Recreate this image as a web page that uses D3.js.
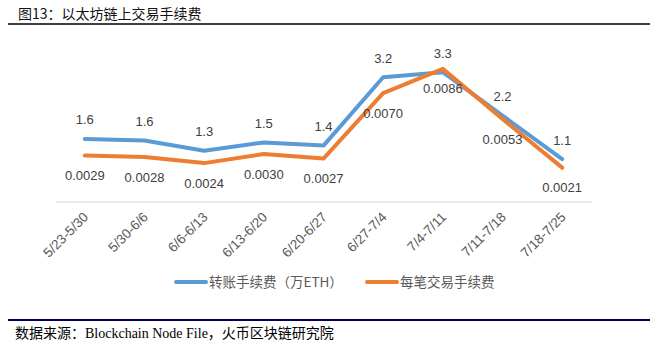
<!DOCTYPE html>
<html>
<head>
<meta charset="utf-8">
<script src="https://cdn.jsdelivr.net/npm/d3@7"></script>
<style>
  body { margin: 0; background: #fff; }
  svg { display: block; }
</style>
</head>
<body>
<div class="chartWrapper"></div>
<script>
// week ranges on the x axis
var weeks = ["5/23-5/30", "5/30-6/6", "6/6-6/13", "6/13-6/20", "6/20-6/27", "6/27-7/4", "7/4-7/11", "7/11-7/18", "7/18-7/25"]
// 转账手续费（万ETH）
var transferFee = [1.61, 1.57, 1.31, 1.52, 1.44, 3.17, 3.30, 2.20, 1.10]
// 每笔交易手续费
var perTxFee = [0.0029, 0.0028, 0.0024, 0.0030, 0.0027, 0.0070, 0.0086, 0.0053, 0.0021]

var seriesNames = ["转账手续费（万ETH）", "每笔交易手续费"]
var colors = ["#5B9BD5", "#ED7D31"]

var width = 658, height = 351
var svg = d3.select('.chartWrapper').append('svg')
    .attr('width', width)
    .attr('height', height)

// title + rule
svg.append('text')
    .attr('x', 18).attr('y', 19)
    .attr('font-family', '"Noto Sans CJK SC", sans-serif')
    .attr('font-size', 14)
    .attr('fill', '#111')
    .text('图13：以太坊链上交易手续费')
svg.append('line')
    .attr('x1', 8).attr('x2', 650).attr('y1', 24).attr('y2', 24)
    .attr('stroke', '#000').attr('stroke-width', 1.5)

var x = d3.scaleBand()
    .domain(weeks)
    .range([55, 592])

var yLeft = d3.scaleLinear().domain([0, 4]).range([202.5, 44.5])
var yRight = d3.scaleLinear().domain([0, 0.0103]).range([199.6, 43])

// x axis (no ticks, light grey line)
var xAxis = svg.append('g')
    .attr('transform', 'translate(0,201.5)')
    .call(d3.axisBottom(x).tickSize(0).tickPadding(0))
xAxis.select('.domain').attr('stroke', '#d9d9d9').attr('stroke-width', 1)
xAxis.selectAll('.tick text')
    .attr('font-family', '"Liberation Sans", Arial, sans-serif')
    .attr('font-size', 13.5)
    .attr('fill', '#595959')
    .attr('text-anchor', 'end')
    .attr('dy', '0.35em')
    .attr('transform', 'translate(1,13) rotate(-45)')

function cx(d, i) { return x(weeks[i]) + x.bandwidth() / 2 }

var lineLeft = d3.line().x(cx).y(function(d) { return yLeft(d) })
var lineRight = d3.line().x(cx).y(function(d) { return yRight(d) })

svg.append('path')
    .datum(transferFee)
    .attr('d', lineLeft)
    .attr('fill', 'none')
    .attr('stroke', colors[0])
    .attr('stroke-width', 4)
    .attr('stroke-linejoin', 'round')
    .attr('stroke-linecap', 'round')

svg.append('path')
    .datum(perTxFee)
    .attr('d', lineRight)
    .attr('fill', 'none')
    .attr('stroke', colors[1])
    .attr('stroke-width', 4)
    .attr('stroke-linejoin', 'round')
    .attr('stroke-linecap', 'round')

// data labels
svg.selectAll('.lblLeft')
    .data(transferFee)
    .enter()
    .append('text')
    .attr('class', 'lblLeft')
    .attr('x', cx)
    .attr('y', function(d) { return yLeft(d) - 19 })
    .attr('dy', '0.35em')
    .attr('text-anchor', 'middle')
    .attr('font-family', '"Liberation Sans", Arial, sans-serif')
    .attr('font-size', 13)
    .attr('fill', '#404040')
    .text(function(d) { return d.toFixed(1) })

svg.selectAll('.lblRight')
    .data(perTxFee)
    .enter()
    .append('text')
    .attr('class', 'lblRight')
    .attr('x', cx)
    .attr('y', function(d) { return yRight(d) + 20 })
    .attr('dy', '0.35em')
    .attr('text-anchor', 'middle')
    .attr('font-family', '"Liberation Sans", Arial, sans-serif')
    .attr('font-size', 13)
    .attr('fill', '#404040')
    .text(function(d) { return d.toFixed(4) })

// legend
var legendX = [176, 367]
var legend = svg.selectAll('.legend')
    .data(seriesNames)
    .enter()
    .append('g')
    .attr('class', 'legend')
    .attr('transform', function(d, i) { return 'translate(' + legendX[i] + ',282)' })
legend.append('line')
    .attr('x1', 0).attr('x2', 30)
    .attr('stroke', function(d, i) { return colors[i] })
    .attr('stroke-width', 4)
    .attr('stroke-linecap', 'round')
legend.append('text')
    .attr('x', 33)
    .attr('dy', '0.35em')
    .attr('font-family', '"Noto Sans CJK SC", sans-serif')
    .attr('font-size', 13.5)
    .attr('fill', '#595959')
    .text(function(d) { return d })

// source rule + text
svg.append('line')
    .attr('x1', 8).attr('x2', 650).attr('y1', 320).attr('y2', 320)
    .attr('stroke', '#00005a').attr('stroke-width', 2)
svg.append('text')
    .attr('x', 15).attr('y', 338)
    .attr('font-family', '"Liberation Serif", "Noto Sans CJK SC", serif')
    .attr('font-size', 14)
    .attr('fill', '#000')
    .text('数据来源：Blockchain Node File，火币区块链研究院')
</script>
</body>
</html>
